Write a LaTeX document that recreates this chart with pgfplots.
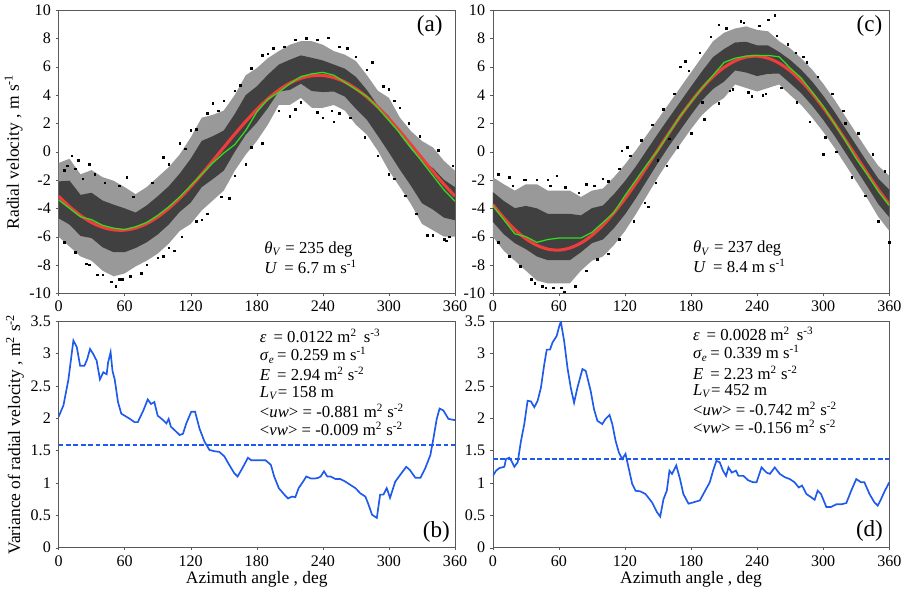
\documentclass[border=0pt]{standalone}
\usepackage{fontspec}
\setmainfont{Liberation Serif}
\usepackage{pgfplots}
\usepackage{pgfplotstable}
\pgfplotsset{compat=1.18}
\usepgfplotslibrary{fillbetween}

\definecolor{fitred}{RGB}{240,60,60}
\definecolor{obsgreen}{RGB}{50,220,30}
\definecolor{varblue}{RGB}{30,90,235}

% az, envelope up/lo, dense core up/lo, fitted sine, running mean
\pgfplotstableread{
az  up    lo    cu    cl    fit   obs
0   -0.8  -6.0  -2.1  -4.7  -3.14 -3.4
10  -0.5  -6.7  -2.05 -5.15 -3.88 -4.0
20  -1.6  -7.4  -3.05 -5.95 -4.51 -4.6
30  -1.3  -7.7  -2.9  -6.1  -5.00 -4.8
40  -1.8  -8.4  -3.45 -6.75 -5.34 -5.2
50  -2.05 -8.8  -3.74 -7.1  -5.52 -5.4
60  -2.5  -8.6  -4.0  -7.1  -5.54 -5.5
70  -3.0  -8.1  -4.3  -6.8  -5.39 -5.3
80  -2.5  -7.7  -3.8  -6.4  -5.08 -5.0
90  -1.8  -7.2  -3.15 -5.85 -4.61 -4.5
100 -1.1  -6.5  -2.45 -5.15 -4.01 -3.9
110 -0.2  -5.6  -1.55 -4.25 -3.29 -3.2
120 1.0   -5.1  -0.5  -3.6  -2.48 -2.4
130 2.4   -4.15 0.76  -2.5  -1.59 -1.6
140 2.6   -3.45 1.09  -1.94 -0.65 -0.8
150 2.9   -2.75 1.49  -1.34 0.30  -0.1
160 4.0   -1.35 2.66  -0.01 1.24  0.5
170 5.4   -0.2  4.0   1.2   2.14  1.5
180 5.9   0.75  4.61  2.04  2.98  2.8
190 6.6   1.9   5.43  3.08  3.72  3.7
200 7.1   3.3   6.15  4.25  4.35  4.2
210 7.55  3.3   6.49  4.36  4.84  4.8
220 7.8   3.8   6.8   4.8   5.18  5.3
230 7.8   3.1   6.63  4.28  5.36  5.5
240 7.55  3.1   6.44  4.21  5.38  5.6
250 7.1   3.3   6.15  4.25  5.23  5.4
260 6.85  2.9   5.86  3.89  4.92  4.9
270 6.4   1.9   5.28  3.03  4.45  4.4
280 5.4   1.2   4.35  2.25  3.85  3.9
290 4.3   0.05  3.24  1.11  3.14  3.1
300 3.8   -1.35 2.51  -0.06 2.32  2.2
310 2.4   -2.5  1.18  -1.28 1.43  1.3
320 1.45  -3.7  0.16  -2.41 0.49  0.3
330 0.75  -5.1  -0.71 -3.64 -0.46 -0.7
340 0.3   -5.55 -1.16 -4.09 -1.40 -1.7
350 -0.65 -6.0  -1.99 -4.66 -2.31 -2.7
360 -1.35 -6.0  -2.51 -4.84 -3.14 -3.5
}\tabA

\pgfplotstableread{
az  up    lo    cu    cl    fit   obs
0   -1.8  -6.0  -2.85 -4.95 -3.73 -3.8
10  -2.3  -7.0  -3.48 -5.83 -4.68 -4.8
20  -2.75 -7.7  -3.99 -6.46 -5.50 -5.8
30  -2.3  -8.4  -3.83 -6.88 -6.15 -6.0
40  -2.3  -9.1  -4.0  -7.4  -6.61 -6.4
50  -2.75 -9.3  -4.39 -7.66 -6.88 -6.2
60  -2.75 -9.3  -4.39 -7.66 -6.95 -6.1
70  -2.75 -9.3  -4.39 -7.66 -6.80 -6.1
80  -3.2  -8.4  -4.5  -7.1  -6.45 -6.1
90  -2.75 -7.7  -3.99 -6.46 -5.91 -5.7
100 -2.6  -7.4  -3.8  -6.2  -5.19 -5.0
110 -1.8  -6.6  -3.0  -5.4  -4.32 -4.3
120 -0.9  -5.6  -2.08 -4.43 -3.32 -3.1
130 0.1   -4.4  -1.03 -3.28 -2.22 -2.0
140 1.2   -3.1  0.13  -2.03 -1.05 -0.9
150 2.3   -1.8  1.28  -0.78 0.14  0.1
160 3.4   -0.6  2.4   0.4   1.32  1.3
170 4.5   0.5   3.5   1.5   2.47  2.5
180 5.6   1.6   4.6   2.6   3.53  3.5
190 6.7   2.6   5.68  3.63  4.48  4.5
200 7.8   3.3   6.68  4.43  5.30  5.4
210 8.4   3.8   7.25  4.95  5.95  6.3
220 8.7   4.75  7.71  5.74  6.41  6.6
230 8.85  4.5   7.76  5.59  6.68  6.75
240 8.6   4.25  7.51  5.34  6.75  6.8
250 8.5   4.5   7.5   5.5   6.60  6.8
260 7.8   4.75  7.04  5.51  6.25  6.7
270 7.3   4.0   6.48  4.83  5.71  5.9
280 6.6   3.3   5.78  4.13  4.99  5.2
290 5.8   2.4   4.95  3.25  4.12  4.2
300 4.8   1.4   3.95  2.25  3.11  3.2
310 3.7   0.3   2.85  1.15  2.02  2.0
320 2.5   -0.9  1.65  -0.05 0.85  0.8
330 1.3   -2.1  0.45  -1.25 -0.34 -0.5
340 0.1   -3.3  -0.75 -2.45 -1.52 -1.6
350 -1.0  -4.6  -1.9  -3.7  -2.67 -2.8
360 -1.7  -5.6  -2.68 -4.63 -3.73 -3.8
}\tabC

\pgfplotsset{
  panel/.style={
    scale only axis, width=99.75mm, anchor=south west,
    xmin=0, xmax=360, xtick={0,60,...,360},
    tick align=outside, tick pos=left, major tick length=2pt,
    axis line style={black!65}, tick style={black!65},
    ticklabel style={font=\fontsize{11.5}{13}\selectfont},
    label style={font=\fontsize{12.5}{14}\selectfont},
    ylabel shift=-2pt,
    /pgf/number format/assume math mode=true,
    clip=true,
  },
  top/.style={panel, height=71.25mm, ymin=-10, ymax=10, ytick={-10,-8,...,10}},
  bot/.style={panel, height=57mm, ymin=0, ymax=3.5, ytick={0,0.5,...,3.5},
    xlabel={Azimuth angle , deg}, xlabel shift=-3pt},
  dots/.style={only marks, mark=square*, mark size=0.55pt, black},
}
\tikzset{txt/.style={anchor=west, inner sep=0.5pt, font=\fontsize{12}{14}\selectfont}}
\newcommand{\tag}[1]{{\fontsize{16.5}{19}\selectfont #1}}
\newcommand{\sq}[1]{\textsuperscript{#1}}

\begin{document}
\begin{tikzpicture}

% (a)
\begin{axis}[top, at={(0,64mm)}, ylabel={Radial velocity , m s\sq{-1}}]
\addplot[draw=none, name path=ua] table[x=az,y=up] {\tabA};
\addplot[draw=none, name path=la] table[x=az,y=lo] {\tabA};
\addplot[draw=none, name path=cua] table[x=az,y=cu] {\tabA};
\addplot[draw=none, name path=cla] table[x=az,y=cl] {\tabA};
\addplot[black!40] fill between[of=ua and la];
\addplot[black!75] fill between[of=cua and cla];
\addplot[dots] coordinates {
(8,-1.0) (12,-0.3) (18,-0.6) (25,-7.9) (35,-8.7) (48,-9.2) (52,-9.5) (58,-9.0)
(75,-8.6) (95,-7.4) (105,-7.0) (95,-0.4) (110,0.6) (120,1.5) (140,3.4) (150,3.6)
(165,4.7) (185,6.8) (195,7.3) (225,8.0) (245,8.05) (262,7.3) (285,6.3) (300,4.4)
(310,3.1) (300,-1.6) (335,-5.9) (350,-6.2) (355,-6.0) (170,-0.9) (155,-3.3)
(130,-4.8) (210,2.5) (240,2.4) (250,2.1) (255,2.7) (215,3.0) (62,-1.8) (28,-0.9)
(5,-1.3) (15,-1.2) (22,-1.9) (33,-1.6) (42,-2.2) (55,-2.4) (68,-3.2) (85,-2.2)
(100,-0.9) (115,0.2) (125,1.6) (135,2.7) (145,2.9) (160,4.3) (175,5.9) (190,6.9)
(205,7.4) (215,7.9) (235,7.9) (255,7.4) (270,6.7) (280,5.8) (295,4.6) (305,3.6)
(318,2.0) (328,1.1) (345,0.1) (358,-1.0)
(5,-6.4) (15,-7.1) (28,-8.0) (40,-8.7) (55,-9.0) (65,-8.8) (80,-8.0) (90,-7.5)
(100,-6.8) (112,-6.0) (125,-4.9) (135,-4.4) (148,-3.2) (160,-1.7) (175,0.3)
(185,0.6) (200,2.9) (220,3.5) (235,2.8) (248,2.9) (265,2.4) (278,1.0) (290,-0.3)
(305,-1.9) (315,-3.1) (325,-4.4) (340,-5.9) (352,-6.3)};
\addplot[fitred, line width=2.2pt, smooth] table[x=az,y=fit] {\tabA};
\addplot[obsgreen, line width=0.9pt] table[x=az,y=obs] {\tabA};
\node[txt] at (axis cs:186,-6.9) {\textit{θ}\textsubscript{\textit{V}} = 235 deg};
\node[txt] at (axis cs:186,-8.15) {\textit{U} \,= 6.7 m s\sq{-1}};
\node at (axis cs:337,8.9) {\tag{(a)}};
\end{axis}

% (c)
\begin{axis}[top, at={(109.25mm,64mm)}]
\addplot[draw=none, name path=uc] table[x=az,y=up] {\tabC};
\addplot[draw=none, name path=lc] table[x=az,y=lo] {\tabC};
\addplot[draw=none, name path=cuc] table[x=az,y=cu] {\tabC};
\addplot[draw=none, name path=clc] table[x=az,y=cl] {\tabC};
\addplot[black!40] fill between[of=uc and lc];
\addplot[black!75] fill between[of=cuc and clc];
\addplot[dots] coordinates {
(58,-1.7) (30,-2.0) (15,-1.8) (50,-2.0) (35,-9.0) (45,-9.5) (55,-9.6) (65,-9.9)
(117,0.05) (122,0.3) (141,-3.9) (150,-0.6) (160,0.9) (170,6.0) (175,6.4)
(190,3.5) (205,8.95) (225,9.2) (250,9.3) (256,9.65) (215,4.3) (235,3.9)
(245,4.0) (275,7.0) (285,6.3) (300,-0.2) (320,2.0) (360,-6.4) (100,-1.9) (85,-2.3)
(5,-1.6) (18,-2.4) (28,-2.0) (40,-2.0) (52,-2.4) (66,-2.5) (78,-2.9) (92,-2.4)
(105,-2.1) (115,-1.2) (125,-0.3) (135,0.8) (145,1.9) (155,3.0) (165,4.1) (178,5.7)
(188,7.0) (198,8.1) (212,8.7) (228,9.1) (242,8.9) (258,8.2) (268,7.6) (282,6.7)
(295,5.3) (308,4.1) (318,2.9) (332,1.3) (345,-0.2) (356,-1.4)
(5,-6.4) (15,-7.4) (25,-8.1) (38,-9.3) (48,-9.6) (62,-9.6) (75,-9.5) (85,-8.4)
(95,-7.6) (105,-7.2) (115,-6.2) (128,-4.9) (138,-3.6) (148,-2.2) (158,-1.0)
(168,0.3) (180,1.3) (192,2.3) (205,3.4) (218,4.4) (232,4.2) (248,4.1) (262,4.5)
(276,3.5) (288,2.1) (302,1.0) (312,0.0) (326,-1.8) (338,-3.1) (350,-4.9)};
\addplot[fitred, line width=2.2pt, smooth] table[x=az,y=fit] {\tabC};
\addplot[obsgreen, line width=0.9pt] table[x=az,y=obs] {\tabC};
\node[txt] at (axis cs:181,-6.85) {\textit{θ}\textsubscript{\textit{V}} = 237 deg};
\node[txt] at (axis cs:181,-8.05) {\textit{U} \,= 8.4 m s\sq{-1}};
\node at (axis cs:342,8.9) {\tag{(c)}};
\end{axis}

% (b)
\begin{axis}[bot, at={(0,0)}, ylabel={Variance of radial velocity , m\sq{2} s\sq{-2}}]
\addplot[draw=varblue, line width=1.2pt] coordinates {
(0,2.02) (4.5,2.2) (9,2.6) (12,3.0) (13.5,3.2) (16.6,3.1) (19.6,2.81) (23.5,2.81)
(26,2.91) (28.6,3.07) (31.6,2.99) (34.6,2.89) (37.6,2.6) (40.7,2.71) (43.7,2.68)
(45,2.86) (47.3,3.02) (49,2.73) (51,2.6) (54,2.25) (57,2.07) (60,2.04) (64.8,1.99)
(69,1.94) (72,1.94) (77,2.12) (81,2.29) (84,2.22) (87,2.25) (90,2.04) (95,1.97)
(98,1.92) (100,1.99) (102,1.87) (107,1.79) (110,1.74) (113,1.76) (116,1.92)
(120.5,2.1) (124,2.1) (128,1.84) (132.5,1.64) (137,1.51) (141.6,1.49) (146,1.48)
(150.6,1.41) (155,1.28) (159.6,1.15) (162.6,1.10) (167,1.23) (172,1.39) (175,1.35)
(179,1.35) (183.7,1.35) (188,1.35) (192.8,1.28) (195.8,1.10) (200,0.92) (205,0.82)
(208.4,0.76) (212,0.79) (215,0.78) (218,0.92) (222,1.02) (225,1.10) (229,1.07)
(233,1.07) (236,1.08) (238,1.10) (241,1.18) (244,1.10) (247,1.10) (251.5,1.06)
(256,1.06) (260.5,1.02) (265,0.97) (269.6,0.92) (274,0.84) (278.6,0.79) (281.6,0.66)
(284.6,0.51) (289,0.46) (292,0.82) (295,0.82) (298,0.92) (301,0.77) (305.7,1.02)
(310,1.12) (315.7,1.25) (319,1.20) (324,1.08) (328.6,1.08) (333,1.23) (337.6,1.43)
(340.4,1.69) (343.4,1.99) (346,2.15) (349.4,2.12) (354,1.99) (360,1.97)};
\addplot[draw=varblue, line width=1.1pt, dash pattern=on 3.5pt off 1.8pt] coordinates {(0,1.585) (360,1.585)};
\node[txt] at (axis cs:182,3.27) {\textit{ε} \,= 0.0122 m\sq{2} \,s\sq{-3}};
\node[txt] at (axis cs:182,2.97) {\textit{σ}\textsubscript{\textit{e}}\,= 0.259 m s\sq{-1}};
\node[txt] at (axis cs:182,2.68) {\textit{E} \,= 2.94 m\sq{2} s\sq{-2}};
\node[txt] at (axis cs:182,2.39) {\textit{L}\textsubscript{\textit{V}}= 158 m};
\node[txt] at (axis cs:182,2.11) {<\textit{uw}> = -0.881 m\sq{2} s\sq{-2}};
\node[txt] at (axis cs:182,1.84) {<\textit{vw}> = -0.009 m\sq{2} s\sq{-2}};
\node at (axis cs:343,0.25) {\tag{(b)}};
\end{axis}

% (d)
\begin{axis}[bot, at={(109.25mm,0)}]
\addplot[draw=varblue, line width=1.2pt] coordinates {
(0,1.11) (3,1.19) (6,1.23) (10.5,1.25) (12,1.37) (15,1.39) (17,1.34) (19.6,1.25)
(22.6,1.32) (25.6,1.65) (28.6,1.91) (31.6,2.27) (34.6,2.26) (37.7,2.17) (40.7,2.27)
(43.7,2.47) (46.7,2.83) (49,3.06) (52,3.06) (54.2,3.17) (58,3.27) (60.3,3.42)
(61.8,3.49) (64.8,3.19) (67.8,2.78) (70.8,2.47) (73.8,2.24) (76.8,2.47) (81.4,2.76)
(84.4,2.73) (88.9,2.42) (91.9,2.14) (95,1.96) (99.4,1.91) (102.4,1.99) (106,2.05)
(108.5,1.91) (111.5,1.65) (114.5,1.47) (117.5,1.37) (120.5,1.45) (123.5,1.22)
(126.5,0.99) (129.6,0.88) (134,0.87) (138.6,0.83) (144.6,0.70) (149,0.55) (152,0.48)
(155,0.75) (158,0.88) (160.4,1.19) (162.7,1.14) (166.6,1.27) (170,1.06) (173,0.83)
(177.7,0.68) (182,0.70) (188,0.73) (192.8,0.88) (197,1.01) (200,1.19) (203,1.34)
(206,1.32) (209,1.19) (211.8,1.11) (214,1.24) (217,1.16) (220.8,1.19) (223,1.11)
(227.5,1.11) (232,1.04) (236.5,1.01) (239.5,1.01) (244,1.24) (248.6,1.16)
(251.6,1.14) (256,1.24) (260.6,1.14) (265,1.09) (269.7,1.06) (274,1.01) (277.8,0.93)
(280.8,0.96) (284.7,0.83) (289,0.78) (292.2,0.74) (295,0.88) (298,0.83) (302.8,0.63)
(307.3,0.63) (311.8,0.67) (316.4,0.67) (321,0.69) (325.4,0.88) (330,1.06)
(334.4,1.01) (337.4,1.01) (342,0.83) (346.5,0.70) (349.5,0.65) (352.5,0.75)
(356,0.88) (360,1.01)};
\addplot[draw=varblue, line width=1.1pt, dash pattern=on 3.5pt off 1.8pt] coordinates {(0,1.37) (360,1.37)};
\node[txt] at (axis cs:181,3.30) {\textit{ε} \,= 0.0028 m\sq{2} \,s\sq{-3}};
\node[txt] at (axis cs:181,3.00) {\textit{σ}\textsubscript{\textit{e}}\,= 0.339 m s\sq{-1}};
\node[txt] at (axis cs:181,2.70) {\textit{E} \,= 2.23 m\sq{2} s\sq{-2}};
\node[txt] at (axis cs:181,2.42) {\textit{L}\textsubscript{\textit{V}}= 452 m};
\node[txt] at (axis cs:181,2.15) {<\textit{uw}> = -0.742 m\sq{2} s\sq{-2}};
\node[txt] at (axis cs:181,1.87) {<\textit{vw}> = -0.156 m\sq{2} s\sq{-2}};
\node at (axis cs:342,0.26) {\tag{(d)}};
\end{axis}

\end{tikzpicture}
\end{document}
